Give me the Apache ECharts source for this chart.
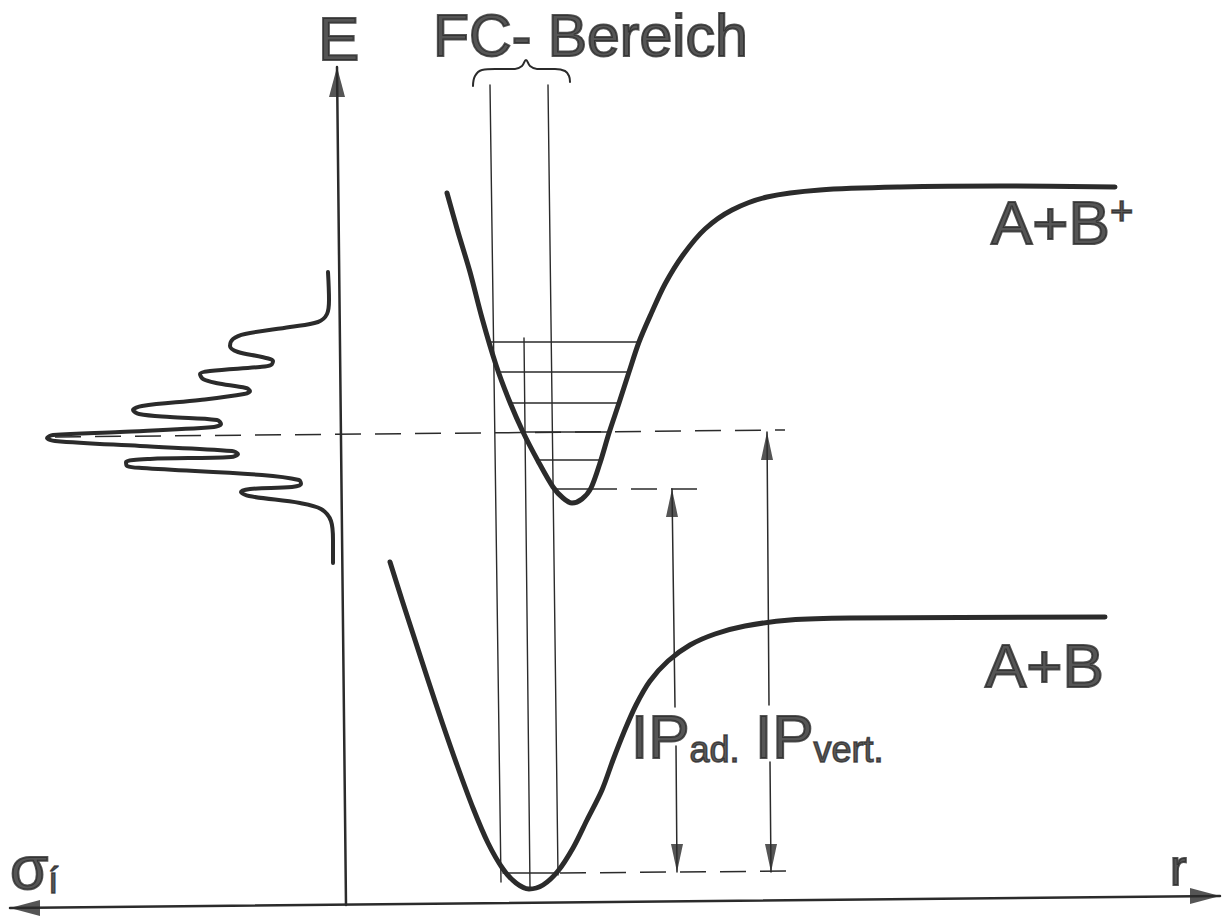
<!DOCTYPE html>
<html><head><meta charset="utf-8">
<script src="https://cdn.jsdelivr.net/npm/echarts@6/dist/echarts.min.js"></script>
<style>html,body{margin:0;padding:0;background:#fff}#c{width:1225px;height:918px}</style>
</head><body><div id="c"></div>
<script>
// Diagram coordinates (r to the right, E downward-inverted axis)
const upperCurve = [[447,193],[458,232],[470,272],[482,318],[496,365],[509,400],[523,432],[538,461],[553,487],[563,498],[572,503],[582,499],[591,488],[600,463],[609,433],[619,403],[629,372],[639,342],[651,314],[665,284],[683,255],[705,229],[732,210],[767,197],[820,190],[900,187],[1000,186],[1115,187]];
const lowerCurve = [[390,562],[402,600],[415,640],[428,680],[442,722],[457,765],[473,808],[488,843],[503,869],[516,883],[529,889],[543,885],[558,871],[573,848],[587,820],[602,790],[613,760],[624,732],[636,705],[650,681],[668,661],[690,645],[715,634],[745,626],[790,620],[850,618],[1105,617]];
const spectrum = [[328,272],[329,300],[327,314],[318,322],[290,327],[245,334],[233,339],[230,346],[238,352],[262,357],[273,361],[271,365],[260,367],[210,371],[200,374],[203,379],[216,383],[246,388],[250,391],[244,394],[200,400],[142,406],[133,410],[139,414],[170,417],[217,420],[221,424],[214,427],[120,432],[53,435],[47,438],[55,441],[140,446],[232,451],[238,454],[231,457],[150,459],[126,462],[127,466],[142,468],[262,475],[299,480],[301,484],[292,487],[250,489],[241,492],[249,496],[300,503],[321,509],[331,521],[333,540],[333,563]];
const upperLevels = [[490,639,342],[499,629,372],[510,619,403],[523,609,432],[537,601,460],[556,591,489]]; // [xLeft, xRight, E]
const lowerLevels = [[503,558,873]];
const fcLines = [[[490,85],[501,882]],[[548,85],[558,875]],[[524,338],[530,887]]];
const dashedLines = [[[55,437],[785,430]],[[591,489],[700,489]],[[560,873],[795,871]]];
const brace = [[473,86],[475,76],[482,70],[495,69],[515,69],[522,66],[526,60],[530,66],[537,69],[555,69],[565,71],[569,76],[570,82]];
const ipSegments = [[[672,489],[675,707]],[[676,746],[677,872]],[[767,432],[769,705]],[[770,762],[771,872]]];
const ipHeads = [[672,489,'up'],[677,872,'down'],[767,432,'up'],[771,872,'down']];
const axisLines = [[[337,67],[346,905]],[[10,908],[1220,896]]];
const axisHeads = [[337,67,'up'],[10,908,'left'],[1220,896,'right']];
const labels = [
  ['E',318,38,'big'],
  ['FC- Bereich',433,36,'title'],
  ['A+B{sup|+}',991,222,'big'],
  ['A+B',985,665,'big'],
  ['IP{sub|ad.}',631,736,'big'],
  ['IP{sub|vert.}',755,736,'big'],
  ['r',1170,868,'mid'],
  ['σ{sub|i\u0301}',10,867,'big']
];

const INK = '#2b2b2b';
const series = [];
function line(points, width, opts) {
  series.push(Object.assign({
    type: 'line', data: points, symbol: 'none', showSymbol: false,
    lineStyle: { color: INK, width: width, cap: 'round', join: 'round' },
    silent: true, animation: false, z: 2
  }, opts || {}));
}
line(upperCurve, 5, { smooth: 0.3 });
line(lowerCurve, 5, { smooth: 0.3 });
line(spectrum, 4, { smooth: 0.35 });
upperLevels.forEach(l => line([[l[0], l[2]], [l[1], l[2]]], 1.5));
lowerLevels.forEach(l => line([[l[0], l[2]], [l[1], l[2]]], 1.5));
fcLines.forEach(s => line(s, 1.4));
dashedLines.forEach(s => line(s, 1.5, { lineStyle: { color: INK, width: 1.5, type: [26, 14] } }));
line(brace, 2, { smooth: 0.4 });
ipSegments.forEach(s => line(s, 1.5));
axisLines.forEach(s => line(s, 2.5));

function heads(list, w, h) {
  const rot = { up: 0, down: 180, left: 90, right: -90 };
  return list.map(a => {
    const d = a[2];
    const off = d === 'up' ? [0, h / 2] : d === 'down' ? [0, -h / 2] : d === 'left' ? [h / 2, 0] : [-h / 2, 0];
    return { value: [a[0], a[1]], symbolRotate: rot[d], symbolOffset: off };
  });
}
series.push({ type: 'scatter', data: heads(ipHeads, 12, 28), symbol: 'triangle', symbolSize: [12, 28], itemStyle: { color: INK }, silent: true, animation: false, z: 3 });
series.push({ type: 'scatter', data: heads(axisHeads, 16, 30), symbol: 'triangle', symbolSize: [16, 30], itemStyle: { color: INK }, silent: true, animation: false, z: 3 });

const FONT = '"Liberation Sans", Arial, sans-serif';
const sizes = { big: 62, title: 59, mid: 50 };
series.push({
  type: 'scatter', symbolSize: 0, silent: true, animation: false, z: 5,
  data: labels.map(l => ({
    value: [l[1], l[2]],
    label: {
      show: true, position: [0, 0], align: 'left', verticalAlign: 'middle',
      formatter: l[0], color: INK, fontFamily: FONT, fontSize: sizes[l[3]],
      textBorderColor: INK, textBorderWidth: 2,
      rich: {
        sup: { fontSize: 40, fontFamily: FONT, color: INK, verticalAlign: 'top', padding: [0, 0, 22, 0], textBorderColor: INK, textBorderWidth: 1.6 },
        sub: { fontSize: 36, fontFamily: FONT, color: INK, padding: [26, 0, 0, 0], textBorderColor: INK, textBorderWidth: 1.4 }
      }
    }
  }))
});

const chart = echarts.init(document.getElementById('c'), null, { renderer: 'svg' });
chart.setOption({
  backgroundColor: '#ffffff',
  animation: false,
  grid: { left: 0, right: 0, top: 0, bottom: 0 },
  xAxis: { type: 'value', min: 0, max: 1225, show: false },
  yAxis: { type: 'value', min: 0, max: 918, inverse: true, show: false },
  series: series
});
</script></body></html>
